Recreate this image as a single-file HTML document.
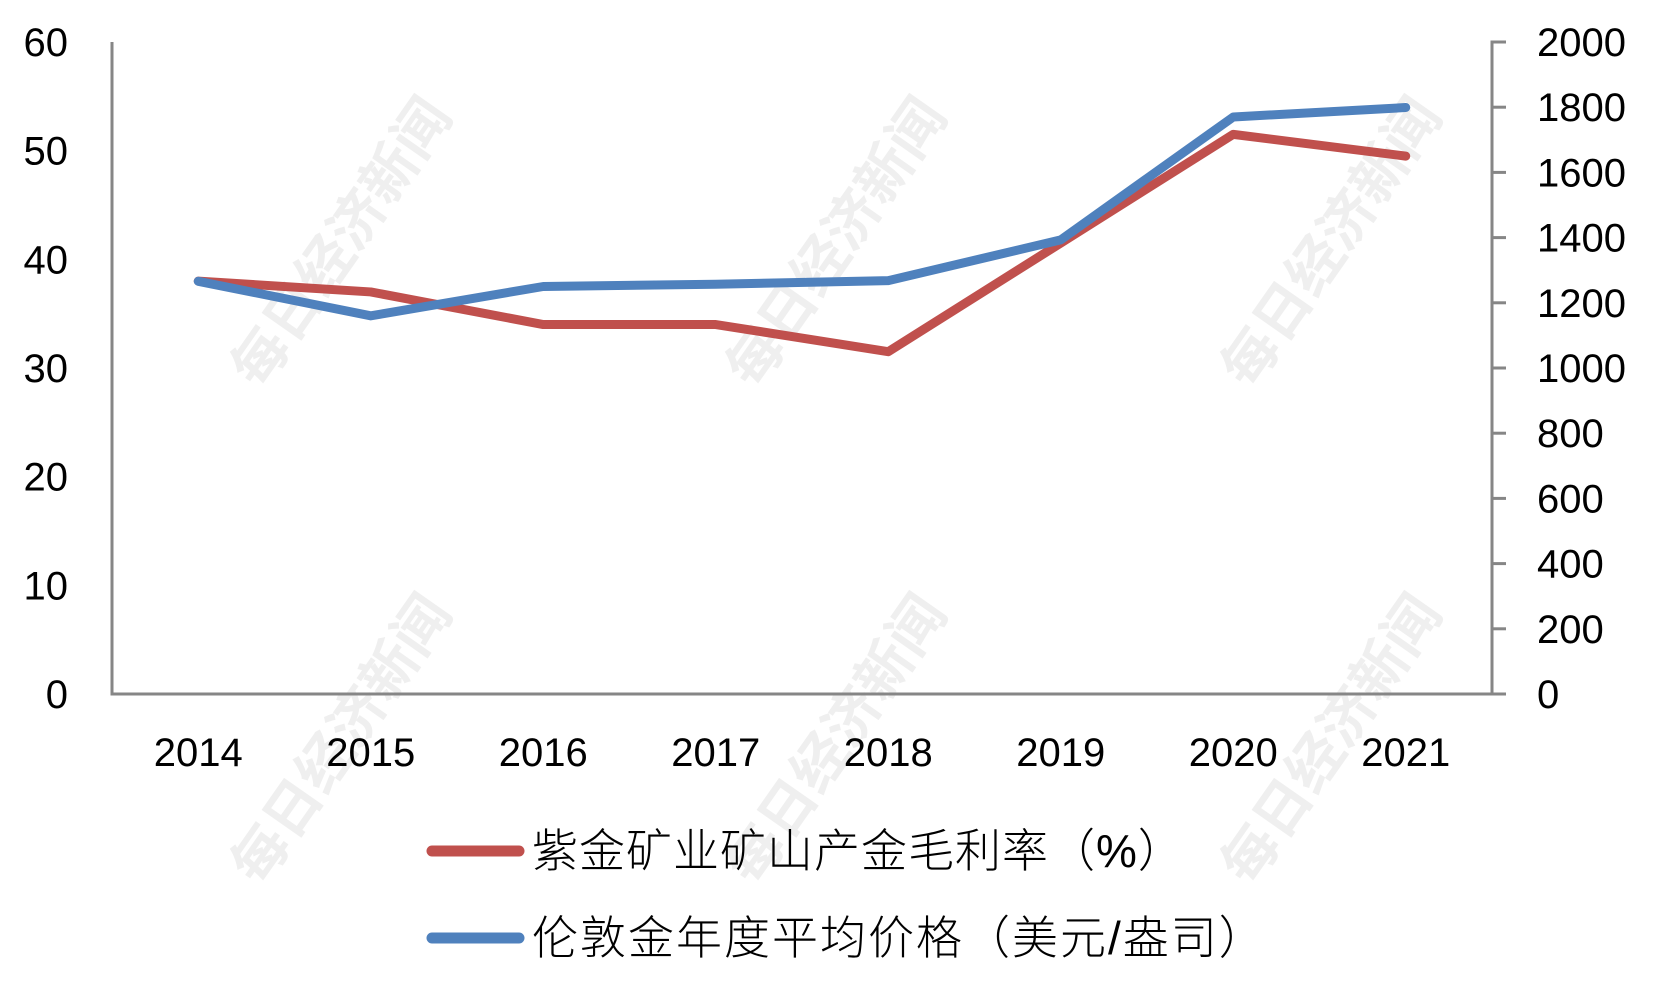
<!DOCTYPE html>
<html><head><meta charset="utf-8"><style>
body{margin:0;background:#fff}
svg{display:block}
text{font-family:"Liberation Sans","Noto Sans CJK SC",sans-serif}
</style></head><body>
<svg id="chart" width="1662" height="991" viewBox="0 0 1662 991" xmlns="http://www.w3.org/2000/svg">
<g id="wm"></g>
<g id="axes"></g>
<g id="series"></g>
<g id="legend">
  <line x1="432" y1="851" x2="519" y2="851" stroke="#C0504D" stroke-width="11" stroke-linecap="round"/>
  <text x="532" y="867" font-size="46" letter-spacing="1" font-weight="300">紫金矿业矿山产金毛利率（%）</text>
  <line x1="432" y1="938" x2="519" y2="938" stroke="#4F81BD" stroke-width="11" stroke-linecap="round"/>
  <text x="532" y="954" font-size="46" letter-spacing="2" font-weight="300">伦敦金年度平均价格（美元/盎司）</text>
</g>
</svg>
<script>
const categories=["2014","2015","2016","2017","2018","2019","2020","2021"];
const marginValues=[38,37,34,34,31.5,41.5,51.5,49.5];
const priceValues=[1266,1160,1250,1257,1268,1393,1770,1799];
const leftTicks=[0,10,20,30,40,50,60];
const rightTicks=[0,200,400,600,800,1000,1200,1400,1600,1800,2000];
const NS="http://www.w3.org/2000/svg";
const X0=112,X1=1492,Y0=694,Y1=42;
const xs=i=>X0+(i+0.5)*(X1-X0)/categories.length;
const yl=v=>Y0-(v/60)*(Y0-Y1);
const yr=v=>Y0-(v/2000)*(Y0-Y1);
function mk(tag,attrs,parent){const e=document.createElementNS(NS,tag);for(const k in attrs)e.setAttribute(k,attrs[k]);parent.appendChild(e);return e;}
const axes=document.getElementById('axes');
let e=mk('path',{d:`M${X0} ${Y1} V${Y0} H${X1} V${Y1} h14`,fill:'none',stroke:'#868686','stroke-width':3},axes);


rightTicks.forEach(t=>{
  const l=mk('line',{x1:X1,x2:X1+14,y1:yr(t),y2:yr(t),stroke:'#868686','stroke-width':3},axes);
  
  
  const tx=mk('text',{x:1537,y:yr(t)+14,'font-size':40},axes);tx.textContent=t;
  
  
});
leftTicks.forEach(t=>{
  const tx=mk('text',{x:68,y:yl(t)+14,'font-size':40,'text-anchor':'end'},axes);tx.textContent=t;
  
  
});
categories.forEach((c,i)=>{
  const tx=mk('text',{x:xs(i),y:766,'font-size':40,'text-anchor':'middle'},axes);tx.textContent=c;
  
  
});
const ser=document.getElementById('series');
let p=mk('polyline',{points:marginValues.map((v,i)=>xs(i)+','+yl(v)).join(' '),fill:'none',stroke:'#C0504D','stroke-width':9,'stroke-linecap':'round','stroke-linejoin':'round'},ser);


p=mk('polyline',{points:priceValues.map((v,i)=>xs(i)+','+yr(v)).join(' '),fill:'none',stroke:'#4F81BD','stroke-width':9,'stroke-linecap':'round','stroke-linejoin':'round'},ser);


const wm=document.getElementById('wm');
[[345,245],[840,245],[1335,245],[345,742],[840,742],[1335,742]].forEach(([x,y])=>{
  const t=mk('text',{x:x,y:y,'font-size':56,'font-weight':'bold',fill:'#efefef','text-anchor':'middle','dominant-baseline':'middle',transform:`rotate(-55 ${x} ${y})`},wm);
  t.textContent='每日经济新闻';
  
  
});
</script>
</body></html>
